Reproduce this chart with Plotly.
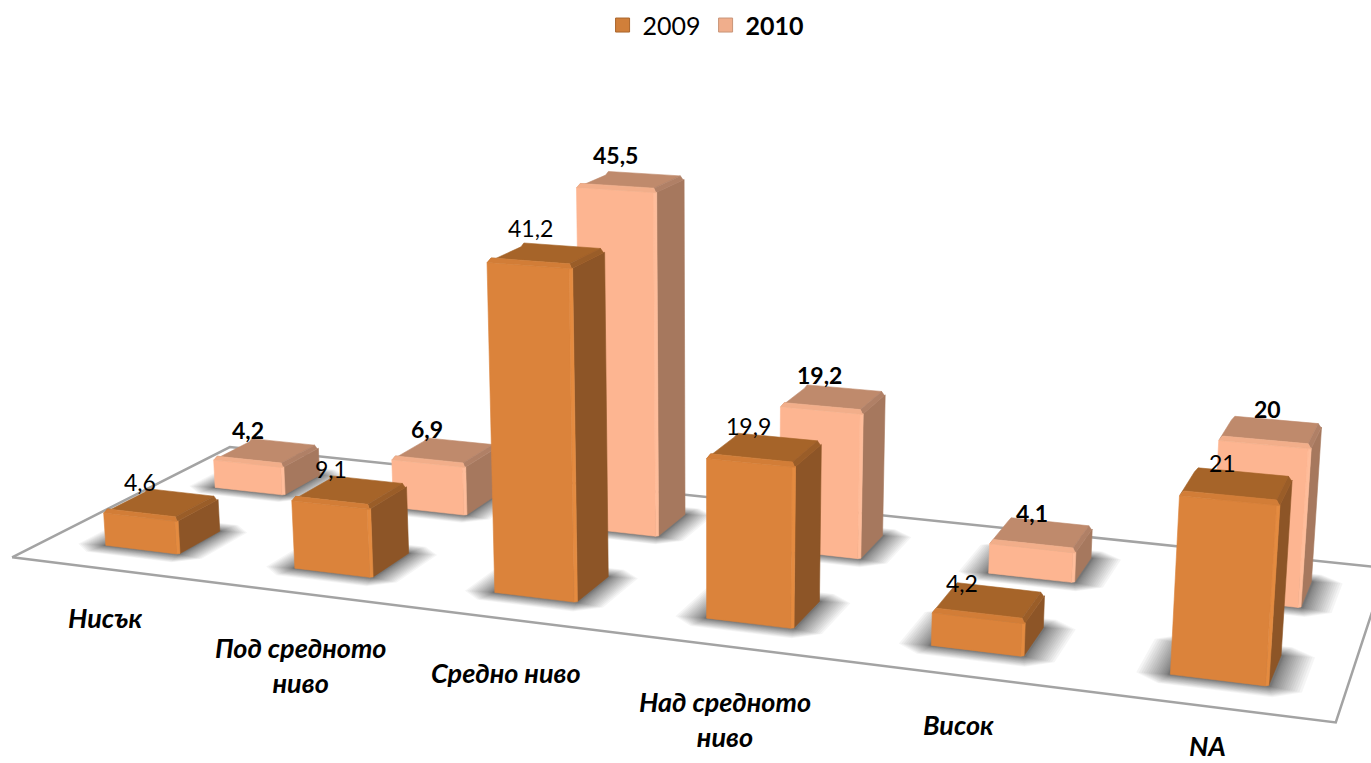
import numpy as np
import plotly.graph_objects as go

categories = ["Нисък", "Под средното<br>ниво", "Средно ниво", "Над средното<br>ниво", "Висок", "NA"]
s2009 = [4.6, 9.1, 41.2, 19.9, 4.2, 21]
s2010 = [4.2, 6.9, 45.5, 19.2, 4.1, 20]
text_2009 = ["4,6", "9,1", "41,2", "19,9", "4,2", "21"]
text_2010 = ["4,2", "6,9", "45,5", "19,2", "4,1", "20"]

W, H = 1371, 763

# perspective view of the 3-D floor (categories along x, series along y, value along z)
EYE = np.array([1.0252, -2.8261, 0.7517])
CEN = np.array([-0.0056, 0.0180, -0.0820])
UP = np.array([0.0005, 0.0012, 1.0])
AX, AY, AZ = 1.6, 0.4745, 0.4864
BAR_W, BAR_D = 0.3928, 0.4191
ROW_2009, ROW_2010 = 0.3468, 1.4736
FLOOR_X = (-0.0061, 5.9949)
FLOOR_Y = (-0.2020, 2.0324)
FOCAL, PPX, PPY = 2564.97, 701.67, 427.88

_f = (CEN - EYE) / np.linalg.norm(CEN - EYE)
_s = np.cross(_f, UP); _s = _s / np.linalg.norm(_s)
_u = np.cross(_s, _f)

def pr(x, y, z):
    P = np.stack([(np.asarray(x, float) - 3) / 6 * AX,
                  (np.asarray(y, float) - 1) / 2 * AY,
                  (np.asarray(z, float) - 25) / 50 * AZ], -1)
    R = P - EYE
    dep = R @ _f
    return PPX + FOCAL * (R @ _s) / dep, PPY - FOCAL * (R @ _u) / dep

def poly(store, pts):
    a, b = pr([q[0] for q in pts], [q[1] for q in pts], [q[2] for q in pts])
    store[0] += list(a) + [a[0], None]
    store[1] += list(b) + [b[0], None]

fig = go.Figure()

def add(store, color, lw=0.6):
    fig.add_trace(go.Scatter(x=store[0], y=store[1], mode="lines", fill="toself", fillcolor=color,
                             line=dict(color=color, width=lw), hoverinfo="skip", showlegend=False))

# floor outline
fa, fb = pr([FLOOR_X[0], FLOOR_X[1], FLOOR_X[1], FLOOR_X[0], FLOOR_X[0]],
            [FLOOR_Y[0], FLOOR_Y[0], FLOOR_Y[1], FLOOR_Y[1], FLOOR_Y[0]], [0] * 5)
fig.add_trace(go.Scatter(x=fa, y=fb, mode="lines", line=dict(color="#A3A3A3", width=2.5),
                         hoverinfo="skip", showlegend=False))

# soft floor shadows
layers = 18
for k in range(layers):
    t = (1 - k / (layers - 1)) ** 1.4
    mx = 0.01 + 0.125 * t
    my = 0.01 + 0.12 * t
    st = [[], []]
    for yc, vs in ((ROW_2010, s2010), (ROW_2009, s2009)):
        for i, v in enumerate(vs):
            xL, xR = i + .5 - BAR_W / 2 - mx, i + .5 + BAR_W / 2 + mx
            yF, yB = yc - BAR_D / 2 - my, yc + BAR_D / 2 + my
            c0 = min(mx, my) * 0.8
            poly(st, [(xL + c0, yF, 0), (xR - c0, yF, 0), (xR, yF + c0, 0), (xR, yB - c0, 0),
                      (xR - c0, yB, 0), (xL + c0, yB, 0), (xL, yB - c0, 0), (xL, yF + c0, 0)])
    fig.add_trace(go.Scatter(x=st[0], y=st[1], mode="lines", fill="toself",
                             fillcolor="rgba(0,0,0,0.038)", line=dict(width=0),
                             hoverinfo="skip", showlegend=False))

# bars, back row first
colors = {
    2010: dict(front="#FDB591", right="#A6785E", top="#BF8A6C", cf="#F2AE8A", cr="#B08066", edge="#FFBD9B"),
    2009: dict(front="#DB833B", right="#8D5527", top="#A66429", cf="#D27D37", cr="#9A5D28", edge="#E48B40"),
}
bz = 0.25
b = 0.014
e = 0.012
for yc, vs, yr in ((ROW_2010, s2010, 2010), (ROW_2009, s2009, 2009)):
    cs = colors[yr]
    parts = {n: [[], []] for n in ("right", "edge", "front", "cf", "cr", "top")}
    for i, h in enumerate(vs):
        xL, xR = i + .5 - BAR_W / 2, i + .5 + BAR_W / 2
        yF, yB = yc - BAR_D / 2, yc + BAR_D / 2
        z1, z2 = h - bz, h + bz
        poly(parts["right"], [(xR, yF + e, 0), (xR, yB, 0), (xR, yB, z1), (xR, yF + e, z1)])
        poly(parts["edge"], [(xR - e, yF, 0), (xR, yF + e, 0), (xR, yF + e, z1), (xR - e, yF, z1)])
        poly(parts["front"], [(xL, yF, 0), (xR - e, yF, 0), (xR - e, yF, z1), (xL, yF, z1)])
        poly(parts["cf"], [(xL, yF, z1), (xR, yF, z1), (xR - b, yF + b, z2), (xL + b, yF + b, z2)])
        poly(parts["cr"], [(xR, yF, z1), (xR, yB - b, z1), (xR - b, yB - b, z2), (xR - b, yF + b, z2)])
        poly(parts["top"], [(xL, yF + b, z1), (xL + b, yF + b, z2), (xR - b, yF + b, z2),
                            (xR - b, yB - b, z2), (xL + b, yB - b, z2), (xL, yB - b, z1)])
    for n in ("right", "top", "cr", "edge", "front", "cf"):
        add(parts[n], cs[n])

# legend entries
for nm, col, ln in (("2009", "#D07F3A", "#A9652C"), ("<b>2010</b>", "#F0AE8C", "#C89478")):
    fig.add_trace(go.Scatter(x=[None], y=[None], mode="markers", name=nm,
                             marker=dict(symbol="square", size=14, color=col, line=dict(color=ln, width=1)),
                             hoverinfo="skip"))

FONT = "Lato, 'Open Sans', sans-serif"
ann = []
shift_2009 = [(-42, -4), (-37, -4), (-33, 3), (-30, -4), (-37, -10), (-21, -6)]
shift_2010 = [(-36, -3), (-34, -3), (-30, 4), (-25, -2), (-18, -6), (-9, -4)]
for yc, vs, txt, bold, sh in ((ROW_2009, s2009, text_2009, False, shift_2009),
                              (ROW_2010, s2010, text_2010, True, shift_2010)):
    for i, v in enumerate(vs):
        a, bb = pr(i + .5, yc + BAR_D / 2, v)
        ann.append(dict(x=float(a), y=float(bb), xref="x", yref="y", xshift=sh[i][0], yshift=sh[i][1],
                        text=f"<b>{txt[i]}</b>" if bold else txt[i], showarrow=False,
                        yanchor="bottom", xanchor="center", font=dict(family=FONT, size=23, color="#000")))
cat_px = [(105, 617), (300, 665), (506, 672), (725, 719), (958, 724), (1207, 745)]
for c_, (a, bb) in zip(categories, cat_px):
    ann.append(dict(x=a, y=bb, xref="x", yref="y", text=f"<b><i>{c_}</i></b>", showarrow=False,
                    font=dict(family=FONT, size=27, color="#000")))

fig.update_layout(
    width=W, height=H, margin=dict(l=0, r=0, t=0, b=0),
    paper_bgcolor="white", plot_bgcolor="white",
    xaxis=dict(range=[0, W], visible=False, fixedrange=True),
    yaxis=dict(range=[H, 0], visible=False, fixedrange=True),
    annotations=ann, showlegend=True,
    legend=dict(orientation="h", x=0.515, xanchor="center", y=0.997, yanchor="top",
                font=dict(family=FONT, size=25, color="#000"), bgcolor="rgba(0,0,0,0)"),
)
fig.write_html("out.html", config={"displayModeBar": False},
               post_script="document.documentElement.style.overflow='hidden';document.body.style.margin='0';document.body.style.overflow='hidden';")
